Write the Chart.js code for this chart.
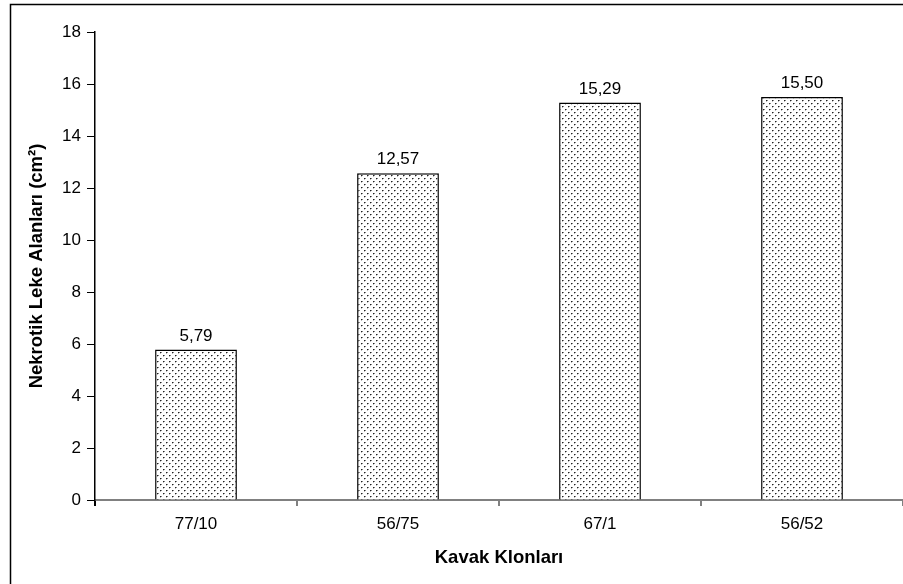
<!DOCTYPE html>
<html>
<head>
<meta charset="utf-8">
<script src="https://cdn.jsdelivr.net/npm/chart.js"></script>
<style>
  html, body { margin: 0; padding: 0; background: #fff; }
  #wrap { width: 903px; height: 584px; position: relative; }
</style>
</head>
<body>
<div id="wrap"><canvas id="chart"></canvas></div>
<script>
// Data
const clones = ['77/10', '56/75', '67/1', '56/52'];
const lesionArea = [5.79, 12.57, 15.29, 15.50];
const yTicksMax = 18;
const yTickStep = 2;
const xTitle = 'Kavak Klonları';
const yTitle = 'Nekrotik Leke Alanları (cm²)';

// dotted fill like the old Excel pattern
function makeDots() {
    const c = document.createElement('canvas');
    c.width = 6; c.height = 6;
    const g = c.getContext('2d');
    g.fillStyle = '#fff';
    g.fillRect(0, 0, 6, 6);
    g.fillStyle = '#222';
    g.fillRect(1, 1, 1, 1);
    g.fillRect(4, 4, 1, 1);
    g.fillStyle = '#888';
    g.fillRect(2, 1, 1, 1);
    g.fillRect(5, 4, 1, 1);
    g.fillStyle = '#bbb';
    g.fillRect(1, 2, 1, 1);
    g.fillRect(4, 5, 1, 1);
    return g.createPattern(c, 'repeat');
}

const FONT = "'Liberation Sans', Arial, sans-serif";

// white background + outer frame
const framePlugin = {
    id: 'frame',
    beforeDraw(chart) {
        const ctx = chart.ctx;
        ctx.save();
        ctx.fillStyle = '#fff';
        ctx.fillRect(0, 0, chart.width, chart.height);
        ctx.strokeStyle = '#000';
        ctx.lineWidth = 1.5;
        ctx.strokeRect(10.5, 4.5, chart.width + 20, chart.height + 20);
        ctx.restore();
    }
};

// value labels above bars, comma decimals
const labelPlugin = {
    id: 'barLabels',
    afterDatasetsDraw(chart) {
        const ctx = chart.ctx;
        const meta = chart.getDatasetMeta(0);
        ctx.save();
        ctx.font = '17px ' + FONT;
        ctx.fillStyle = '#000';
        ctx.textAlign = 'center';
        ctx.textBaseline = 'bottom';
        meta.data.forEach((bar, i) => {
            const txt = lesionArea[i].toFixed(2).replace('.', ',');
            ctx.fillText(txt, bar.x, bar.y - 5);
        });
        ctx.restore();
    }
};

new Chart(document.getElementById('chart'), {
    type: 'bar',
    data: {
        labels: clones,
        datasets: [{
            data: lesionArea,
            backgroundColor: makeDots(),
            borderColor: '#000',
            borderWidth: 1.5,
            categoryPercentage: 1,
            barPercentage: 0.405
        }]
    },
    options: {
        responsive: true,
        maintainAspectRatio: false,
        animation: false,
        layout: { padding: { top: 32, right: 0, left: 0, bottom: 0 } },
        plugins: { legend: { display: false }, tooltip: { enabled: false } },
        scales: {
            x: {
                afterFit: s => { s.height = 84; },
                grid: {
                    drawOnChartArea: false, drawTicks: true, tickLength: 6, lineWidth: 2,
                    color: ctx => ctx.index === 0 ? '#000' : '#808080'
                },
                border: { color: '#808080', width: 2 },
                ticks: { color: '#000', font: { family: FONT, size: 17 }, padding: 8 },
                title: { display: true, text: xTitle, color: '#000',
                         font: { family: FONT, size: 18.5, weight: 'bold' }, padding: { bottom: 15, top: 0 } }
            },
            y: {
                min: 0,
                max: yTicksMax,
                afterFit: s => { s.width = 95; },
                grid: { drawOnChartArea: false, drawTicks: true, tickLength: 8, color: '#000', lineWidth: 1 },
                border: { color: '#000', width: 1.5 },
                ticks: { stepSize: yTickStep, color: '#000', font: { family: FONT, size: 17 }, padding: 6 },
                title: { display: true, text: yTitle, color: '#000',
                         font: { family: FONT, size: 18.5, weight: 'bold' }, padding: { top: 26, bottom: 0 } }
            }
        }
    },
    plugins: [framePlugin, labelPlugin]
});
</script>
</body>
</html>
